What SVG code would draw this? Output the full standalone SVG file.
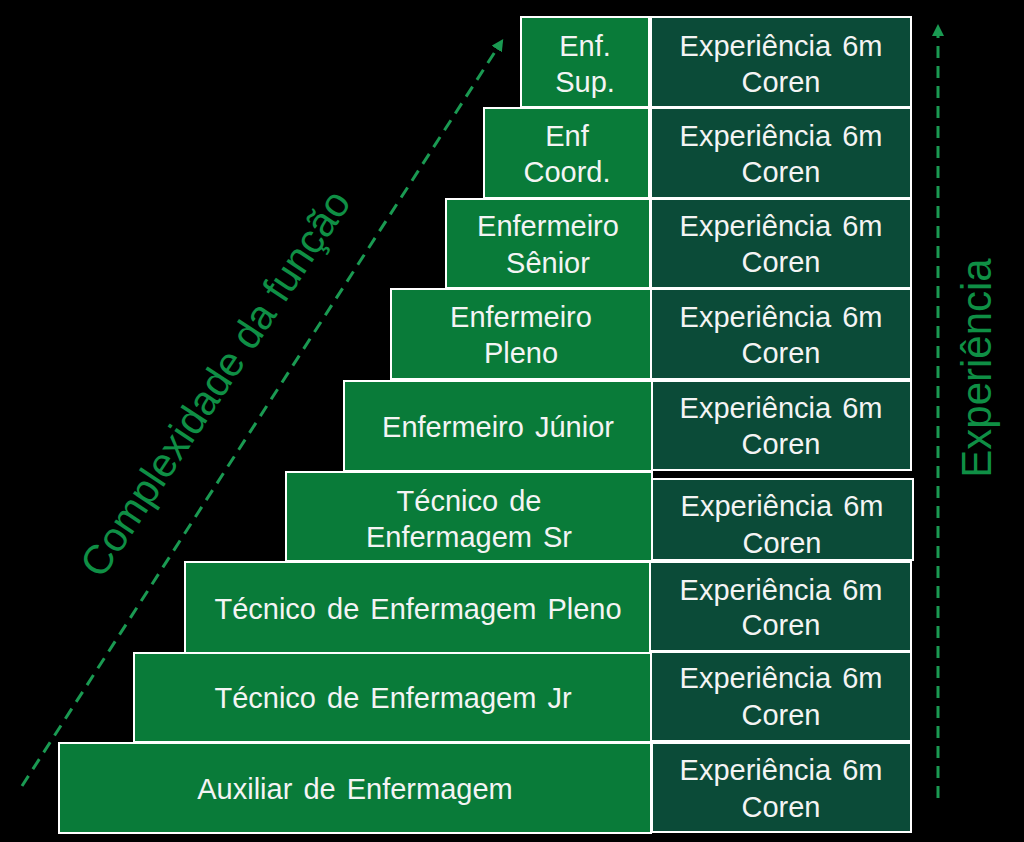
<svg xmlns="http://www.w3.org/2000/svg" width="1024" height="842" viewBox="0 0 1024 842">
<defs>
<style>
.lb{fill:#097b39;stroke:#ffffff;stroke-width:2}
.rb{fill:#0b4b38;stroke:#ffffff;stroke-width:2}
.t{font-family:"Liberation Sans",Arial,sans-serif;font-size:29px;fill:#f4f4f4;text-anchor:middle;word-spacing:3px}
.lab{font-family:"Liberation Sans",Arial,sans-serif;fill:#0f8f45;text-anchor:middle}
.dash{stroke:#1a9a52;stroke-width:3;fill:none;stroke-dasharray:12 8}
</style>
<marker id="ah" viewBox="0 0 12 12" refX="6" refY="6" markerWidth="12" markerHeight="12" markerUnits="userSpaceOnUse" orient="auto">
<path d="M0,0 L12,6 L0,12 Z" fill="#1a9a52"/>
</marker>
</defs>
<rect width="1024" height="842" fill="#000000"/>
<g id="connectors">
<line class="dash" x1="22" y1="786" x2="500" y2="44" marker-end="url(#ah)"/>
<line class="dash" x1="938" y1="798" x2="938" y2="30" marker-end="url(#ah)"/>
</g>
<g id="labels">
<text class="lab" font-size="41" transform="translate(227,391) rotate(-56.5)">Complexidade da função</text>
<text class="lab" font-size="42" transform="translate(991,368) rotate(-90)">Experiência</text>
</g>
<g id="n1"><rect class="lb" x="521" y="17" width="128" height="90"/><text class="t" x="585" y="56">Enf.</text><text class="t" x="585" y="92">Sup.</text></g>
<g id="e1"><rect class="rb" x="651" y="17" width="260" height="90"/><text class="t" x="781" y="56">Experiência 6m</text><text class="t" x="781" y="92">Coren</text></g>
<g id="n2"><rect class="lb" x="484" y="108" width="165" height="90"/><text class="t" x="567" y="146">Enf</text><text class="t" x="567" y="182">Coord.</text></g>
<g id="e2"><rect class="rb" x="651" y="108" width="260" height="90"/><text class="t" x="781" y="146">Experiência 6m</text><text class="t" x="781" y="182">Coren</text></g>
<g id="n3"><rect class="lb" x="446" y="199" width="204" height="89"/><text class="t" x="548" y="236">Enfermeiro</text><text class="t" x="548" y="273">Sênior</text></g>
<g id="e3"><rect class="rb" x="651" y="199" width="260" height="89"/><text class="t" x="781" y="236">Experiência 6m</text><text class="t" x="781" y="272">Coren</text></g>
<g id="n4"><rect class="lb" x="391" y="289" width="260" height="90"/><text class="t" x="521" y="327">Enfermeiro</text><text class="t" x="521" y="363">Pleno</text></g>
<g id="e4"><rect class="rb" x="651" y="289" width="260" height="90"/><text class="t" x="781" y="327">Experiência 6m</text><text class="t" x="781" y="363">Coren</text></g>
<g id="n5"><rect class="lb" x="344" y="381" width="308" height="90"/><text class="t" x="498" y="437">Enfermeiro Júnior</text></g>
<g id="e5"><rect class="rb" x="652" y="381" width="259" height="89"/><text class="t" x="781" y="418">Experiência 6m</text><text class="t" x="781" y="454">Coren</text></g>
<g id="n6"><rect class="lb" x="286" y="472" width="366" height="89"/><text class="t" x="469" y="511">Técnico de</text><text class="t" x="469" y="547">Enfermagem Sr</text></g>
<g id="e6"><rect class="rb" x="652" y="479" width="261" height="81"/><text class="t" x="782" y="516">Experiência 6m</text><text class="t" x="782" y="553">Coren</text></g>
<g id="n7"><rect class="lb" x="185" y="562" width="466" height="91"/><text class="t" x="418" y="619">Técnico de Enfermagem Pleno</text></g>
<g id="e7"><rect class="rb" x="650" y="562" width="261" height="89"/><text class="t" x="781" y="600">Experiência 6m</text><text class="t" x="781" y="635">Coren</text></g>
<g id="n8"><rect class="lb" x="134" y="653" width="517" height="89"/><text class="t" x="393" y="708">Técnico de Enfermagem Jr</text></g>
<g id="e8"><rect class="rb" x="651" y="652" width="260" height="89"/><text class="t" x="781" y="688">Experiência 6m</text><text class="t" x="781" y="725">Coren</text></g>
<g id="n9"><rect class="lb" x="59" y="743" width="592" height="90"/><text class="t" x="355" y="799">Auxiliar de Enfermagem</text></g>
<g id="e9"><rect class="rb" x="652" y="743" width="259" height="89"/><text class="t" x="781" y="780">Experiência 6m</text><text class="t" x="781" y="817">Coren</text></g>
</svg>
